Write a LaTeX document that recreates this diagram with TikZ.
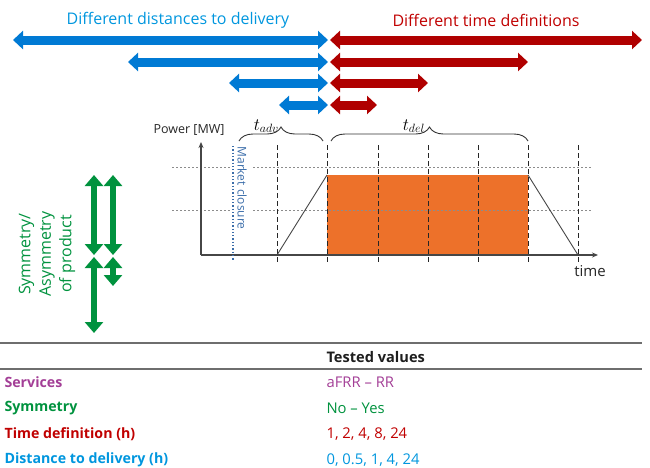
\documentclass[tikz,border=0pt]{standalone}
\usepackage{fontspec}
\setmainfont{Open Sans}
\usetikzlibrary{arrows.meta,decorations.pathreplacing}

\definecolor{arrblue}{RGB}{0,122,212}
\definecolor{txtblue}{RGB}{0,150,222}
\definecolor{arrred}{RGB}{176,0,0}
\definecolor{txtred}{RGB}{192,0,0}
\definecolor{prodgreen}{RGB}{0,146,62}
\definecolor{svcpurple}{RGB}{163,62,150}
\definecolor{peakorange}{RGB}{237,113,42}
\definecolor{axisgray}{RGB}{70,70,70}
\definecolor{closeblue}{RGB}{60,110,170}
\definecolor{rulegray}{RGB}{110,110,110}
\definecolor{gridgray}{RGB}{140,140,140}
\definecolor{headdark}{RGB}{30,30,30}

\begin{document}
\begin{tikzpicture}[x=1pt,y=-1pt,
  widearrow/.style={line width=9pt,
    {Triangle[width=18pt,length=10pt]}-{Triangle[width=18pt,length=10pt]}},
  symarrow/.style={prodgreen,line width=6pt,
    {Triangle[width=18pt,length=11pt]}-{Triangle[width=18pt,length=11pt]}},
  axisline/.style={axisgray,line width=1.2pt,-{Stealth[length=6pt,width=5pt]}},
  slotline/.style={black!85,line width=0.9pt,dash pattern=on 5pt off 3pt},
  levelline/.style={gridgray,line width=0.8pt,dash pattern=on 2pt off 2pt},
  bracestyle/.style={decorate,decoration={brace,amplitude=14pt},black!80,line width=0.9pt},
  toptitle/.style={font=\fontsize{16}{19}\selectfont},
  rowlabel/.style={anchor=west,font=\fontsize{14.2}{17}\selectfont\bfseries},
  rowvalue/.style={anchor=west,font=\fontsize{14.8}{17}\selectfont}]
\useasboundingbox (0,0) rectangle (650,467);

% ---------- headings ----------
\node[toptitle,text=txtblue] (distTitle) at (178,20) {Different distances to delivery};
\node[toptitle,text=txtred] (timeTitle) at (486,20) {Different time definitions};

% ---------- distance / duration arrows ----------
\coordinate (bc1) at (328,40);  \coordinate (rc1) at (330,40);
\coordinate (bc2) at (328,62);  \coordinate (rc2) at (330,62);
\coordinate (bc3) at (328,83);  \coordinate (rc3) at (330,83);
\coordinate (bc4) at (328,105); \coordinate (rc4) at (330,105);
\coordinate (bl1) at (13,40);   \coordinate (rr1) at (642,40);
\coordinate (bl2) at (128,62);  \coordinate (rr2) at (528,62);
\coordinate (bl3) at (229,83);  \coordinate (rr3) at (428,83);
\coordinate (bl4) at (279,105); \coordinate (rr4) at (377,105);
\foreach \i in {1,2,3,4}{
  \draw[widearrow,arrblue] (bl\i) -- (bc\i);
  \draw[widearrow,arrred] (rc\i) -- (rr\i);
}

% ---------- power profile ----------
\node[font=\fontsize{12.5}{15}\selectfont,text=black!85] (power) at (189,130) {Power [MW]};
\node[font=\fontsize{15}{18}\selectfont,text=black!85] (timeLabel) at (590,271) {time};

% delivered block
\fill[peakorange] (327,175) rectangle (528,255);

% reference levels
\draw[levelline] (172,167) -- (230,167) (253,167) -- (592,167);
\draw[levelline] (172,210) -- (230,210) (253,210) -- (592,210);

% time slots
\foreach \x in {277,327,378,428,478,528,578}
  \draw[slotline] (\x,145) -- (\x,262);

% ramps
\draw[axisgray,line width=0.9pt] (277,255) -- (327,175);
\draw[axisgray,line width=0.9pt] (528,175) -- (578,255);

% axes
\coordinate (origin) at (201,255);
\coordinate (yend) at (201,142);
\coordinate (xend) at (598,255);
\draw[axisline] (origin) -- (yend);
\draw[axisline] (origin) -- (xend);

% market closure
\draw[closeblue,line width=1.3pt,dotted] (233,146) -- (233,260);
\node[rotate=-90,font=\fontsize{12}{14}\selectfont,text=closeblue] (closure) at (242,188) {Market closure};

% braces
\draw[bracestyle] (239,141) -- (323,141);
\draw[bracestyle] (331,141) -- (528,141);
\node[anchor=south east,inner sep=1pt,font=\fontsize{16.5}{19}\selectfont] (tadv) at (280,134) {$t_{adv}$};
\node[anchor=south east,inner sep=1pt,font=\fontsize{16.5}{19}\selectfont] (tdel) at (426,134) {$t_{del}$};

% ---------- symmetry arrows ----------
\node[rotate=90,align=center,text=prodgreen,font=\fontsize{16}{20.5}\selectfont] (symLabel) at (47,254)
  {Symmetry/\\Asymmetry\\of product};
\coordinate (gA1) at (94,175);  \coordinate (gA2) at (94,255);
\coordinate (gB1) at (94,257);  \coordinate (gB2) at (94,333);
\coordinate (gC1) at (113,175); \coordinate (gC2) at (113,255);
\coordinate (gD1) at (113,257); \coordinate (gD2) at (113,286);
\draw[symarrow] (gA1) -- (gA2);
\draw[symarrow] (gB1) -- (gB2);
\draw[symarrow] (gC1) -- (gC2);
\draw[symarrow] (gD1) -- (gD2);

% ---------- table ----------
\coordinate (ruleTopL) at (0,343);  \coordinate (ruleTopR) at (642,343);
\coordinate (ruleMidL) at (0,369);  \coordinate (ruleMidR) at (642,369);
\draw[rulegray,line width=1.8pt] (ruleTopL) -- (ruleTopR);
\draw[rulegray,line width=1.8pt] (ruleMidL) -- (ruleMidR);

\node[rowlabel,text=headdark,font=\fontsize{14.6}{17}\selectfont\bfseries] (head) at (323,357) {Tested values};
\node[rowlabel,text=svcpurple] (svc) at (1,382) {Services};
\node[rowlabel,text=prodgreen] (sym) at (1,408) {Symmetry};
\node[rowlabel,text=txtred] (tdef) at (1,434) {Time definition (h)};
\node[rowlabel,text=txtblue] (dist) at (1,460) {Distance to delivery (h)};
\node[rowvalue,text=svcpurple] (svcV) at (323,382) {aFRR -- RR};
\node[rowvalue,text=prodgreen] (symV) at (323,408) {No -- Yes};
\node[rowvalue,text=txtred] (tdefV) at (323,434) {1, 2, 4, 8, 24};
\node[rowvalue,text=txtblue] (distV) at (323,460) {0, 0.5, 1, 4, 24};
\end{tikzpicture}
\end{document}
